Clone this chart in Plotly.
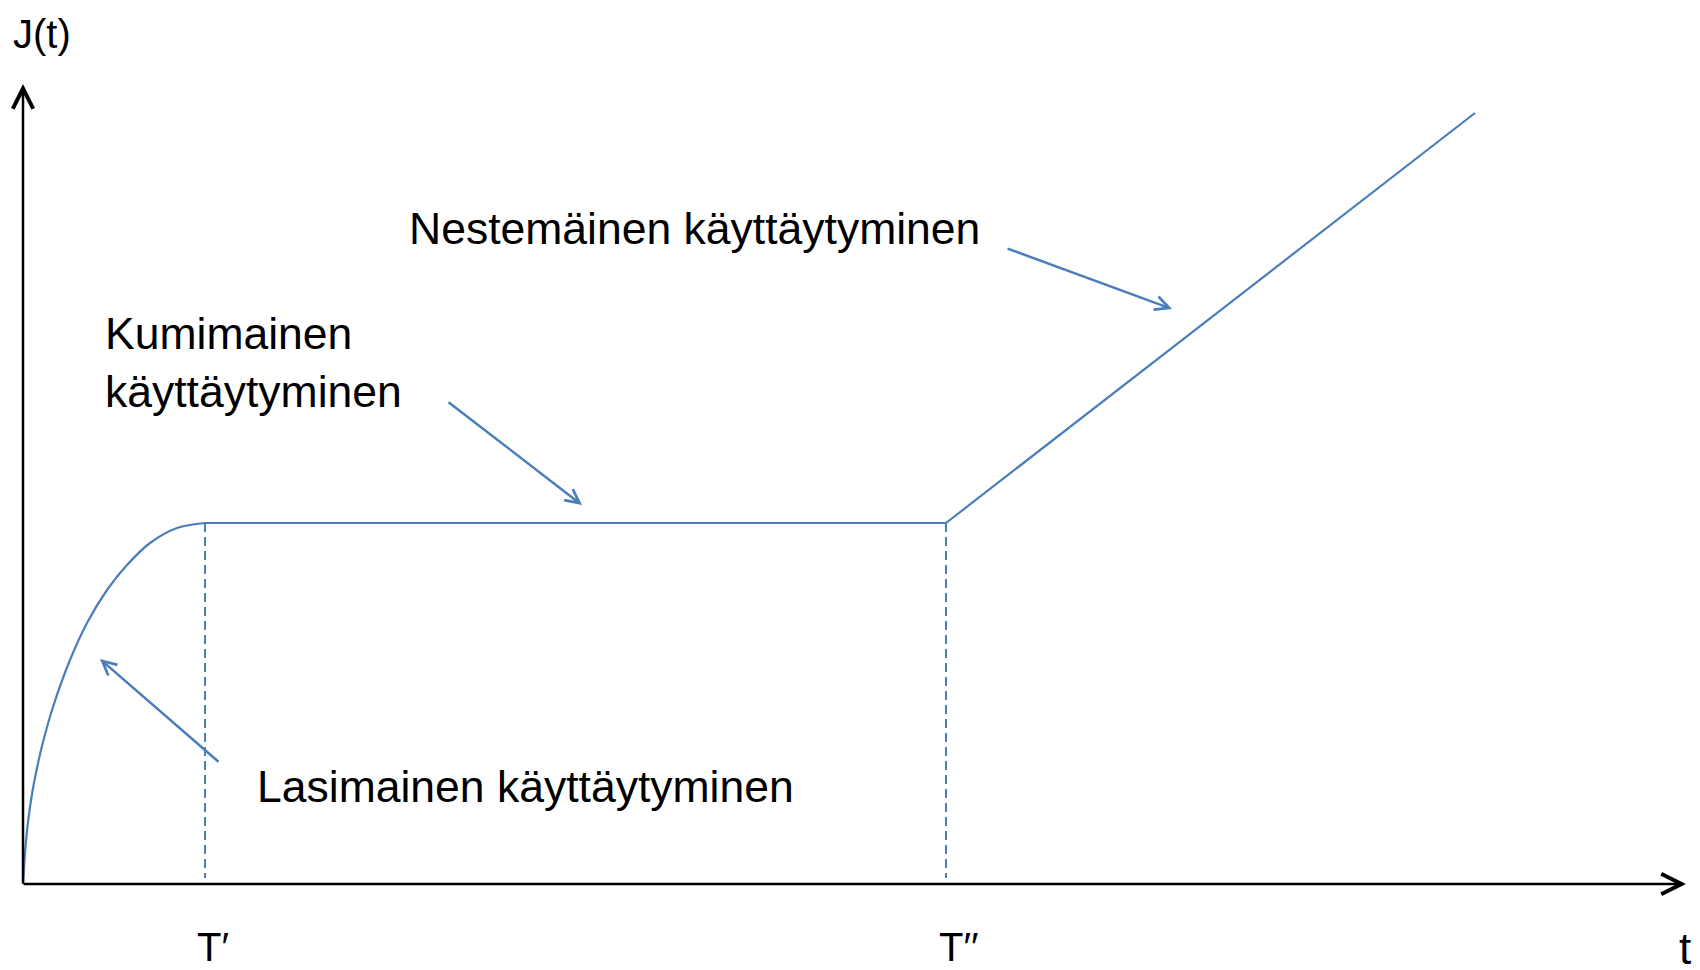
import plotly.graph_objects as go

# ---- data (t in arbitrary time units, J in arbitrary compliance units) ----
t_glassy = [0.0, 0.01, 0.025, 0.05, 0.09, 0.14, 0.19, 0.30, 0.47, 0.64, 0.84, 1.04, 1.27, 1.54, 1.82]
J_glassy = [0.0, 0.16, 0.37, 0.62, 0.90, 1.16, 1.38, 1.77, 2.24, 2.61, 2.94, 3.19, 3.41, 3.56, 3.61]

T1 = 1.82      # T'
T2 = 9.23      # T''
J_plateau = 3.61
t_flow_end = 14.52
J_flow_end = 7.71

t_rubbery = [T1, T2]
J_rubbery = [J_plateau, J_plateau]
t_flow = [T2, t_flow_end]
J_flow = [J_plateau, J_flow_end]

t_axis_max = 16.63
J_axis_max = 8.00

tick_labels = ["T\u2032", "T\u2032\u2032"]
labels = {
    "glassy": "Lasimainen käyttäytyminen",
    "rubbery1": "Kumimainen",
    "rubbery2": "käyttäytyminen",
    "flow": "Nestemäinen käyttäytyminen",
}

BLUE = "#4A7EBB"
FONT = "Liberation Sans Narrow, Liberation Sans, Arial, sans-serif"

fig = go.Figure()

fig.add_trace(go.Scatter(x=t_glassy, y=J_glassy, mode="lines",
                         line=dict(color=BLUE, width=2.2, shape="spline", smoothing=1.0)))
fig.add_trace(go.Scatter(x=t_rubbery, y=J_rubbery, mode="lines",
                         line=dict(color=BLUE, width=2.2)))
fig.add_trace(go.Scatter(x=t_flow, y=J_flow, mode="lines",
                         line=dict(color=BLUE, width=2.2)))

# dashed drop lines at T' and T''
for tv in (T1, T2):
    fig.add_trace(go.Scatter(x=[tv, tv], y=[J_plateau, 0.06], mode="lines",
                             line=dict(color=BLUE, width=2, dash="9px,5px")))

ann = []
# axes with arrowheads
ann.append(dict(x=0, y=J_axis_max, ax=0, ay=-0.01, xref="x", yref="y", axref="x", ayref="y",
                text="", showarrow=True, arrowhead=5, arrowsize=1.6, arrowwidth=2.5,
                arrowcolor="black", standoff=0, startstandoff=0))
ann.append(dict(x=t_axis_max, y=0, ax=-0.01, ay=0, xref="x", yref="y", axref="x", ayref="y",
                text="", showarrow=True, arrowhead=5, arrowsize=1.6, arrowwidth=2.5,
                arrowcolor="black", standoff=0, startstandoff=0))

# pointer arrows (tip, tail)
pointers = [
    ((0.77, 2.25), (1.97, 1.21)),
    ((5.59, 3.79), (4.24, 4.83)),
    ((11.49, 5.75), (9.83, 6.36)),
]
for (xt, yt), (xs, ys) in pointers:
    ann.append(dict(x=xt, y=yt, ax=xs, ay=ys, xref="x", yref="y", axref="x", ayref="y",
                    text="", showarrow=True, arrowhead=5, arrowsize=1.1, arrowwidth=2.5,
                    arrowcolor=BLUE, standoff=0, startstandoff=0))

def txt(x, y, s, size=44.5, xanchor="left"):
    return dict(x=x, y=y, xref="x", yref="y", text=s, showarrow=False,
                xanchor=xanchor, yanchor="middle",
                font=dict(family=FONT, size=size, color="black"))

ann.append(txt(3.84, 6.56, labels["flow"]))
ann.append(txt(0.80, 5.51, labels["rubbery1"]))
ann.append(txt(0.80, 4.93, labels["rubbery2"]))
ann.append(txt(2.32, 0.98, labels["glassy"]))
ann.append(txt(-0.12, 8.50, "J(t)", size=40))
ann.append(txt(1.72, -0.63, tick_labels[0], size=40))
ann.append(txt(9.14, -0.63, tick_labels[1], size=40))
ann.append(txt(16.54, -0.64, "t", size=44))

# the page body adds an 8px offset; ranges compensate so marks land at the reference spots
fig.update_layout(
    width=1700, height=970,
    margin=dict(l=0, r=0, t=0, b=0),
    paper_bgcolor="white", plot_bgcolor="white",
    showlegend=False,
    annotations=ann,
    xaxis=dict(range=[-0.15, 16.85], visible=False, fixedrange=True),
    yaxis=dict(range=[-0.94, 8.76], visible=False, fixedrange=True),
)

fig.write_html("out.html")
